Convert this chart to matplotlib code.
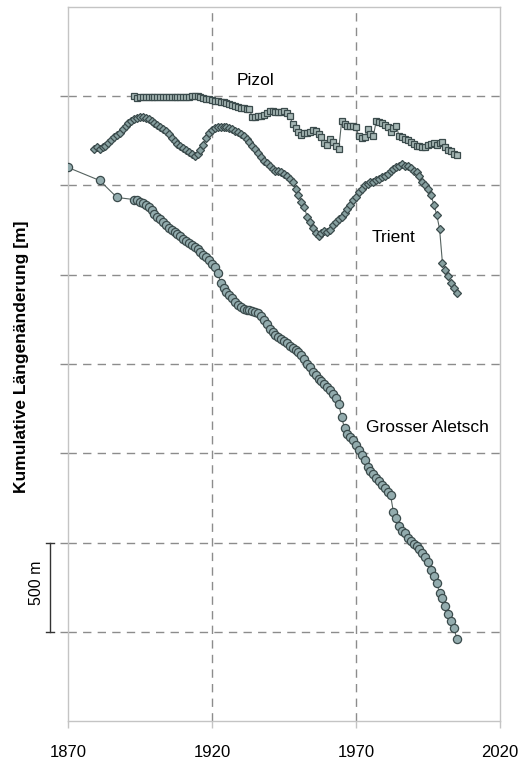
import matplotlib
matplotlib.use("Agg")
import matplotlib.pyplot as plt

plt.rcParams['font.family'] = ['Liberation Sans', 'DejaVu Sans']

# Pizol: annual cumulative length change [m], 1893-2005
pizol_years = list(range(1893, 2006))
pizol_m = [0, -11] + [-6] * 18 + [
    0, 0, 0, -6, -11, -17, -17, -22, -28, -28,              # 1913-1922
    -34, -34, -39, -45, -51, -56, -62, -67, -67, -73,       # 1923-1932
    -73, -118, -118, -112, -112, -107, -96, -84, -84, -90,  # 1933-1942
    -90, -90, -84, -96, -112, -157, -180, -202, -219, -208,  # 1943-1952
    -208, -202, -191, -197, -213, -230, -264, -275, -242, -258,  # 1953-1962
    -281, -298, -140, -157, -169, -169, -169, -174, -225, -236,  # 1963-1972
    -230, -185, -213, -225, -140, -146, -152, -163, -174, -202,  # 1973-1982
    -180, -169, -225, -230, -242, -247, -258, -270, -281, -281,  # 1983-1992
    -287, -287, -275, -270, -264, -275, -264, -258, -287, -303,  # 1993-2002
    -309, -326, -331,                                        # 2003-2005
]

# Trient: annual cumulative length change [m], 1879-2005
trient_years = list(range(1879, 2006))
trient_m = [
    -298, -287, -298, -287, -281, -264, -247, -230, -219, -208,  # 1879-1888
    -185, -169, -152, -140, -129, -124, -118, -118, -124, -129,  # 1889-1898
    -140, -152, -163, -174, -185, -197, -213, -236, -253, -270,  # 1899-1908
    -281, -292, -303, -315, -326, -337, -326, -303, -275, -236,  # 1909-1918
    -208, -191, -180, -174, -174, -174, -174, -180, -185, -197,  # 1919-1928
    -202, -213, -225, -242, -258, -281, -298, -320, -343, -360,  # 1929-1938
    -376, -393, -410, -416, -421, -427, -438, -449, -466, -483,  # 1939-1948
    -517, -551, -590, -618, -674, -702, -736, -764, -781, -764,  # 1949-1958
    -753, -758, -747, -719, -702, -685, -674, -652, -629, -607,  # 1959-1968
    -584, -562, -539, -517, -500, -489, -483, -478, -472, -461,  # 1969-1978
    -455, -444, -433, -421, -410, -399, -388, -382, -388, -393,  # 1979-1988
    -404, -416, -427, -449, -478, -500, -517, -551, -607, -663,  # 1989-1998
    -742, -933, -972, -1006, -1045, -1073, -1101,               # 1999-2005
]

# Grosser Aletsch: sparse early surveys, then annual from 1893
aletsch_years = [1870, 1881, 1887] + list(range(1893, 2006))
aletsch_m = [
    -399, -472, -567,
    -579, -584, -590, -596, -607, -618, -635,                      # 1893-1899
    -657, -674, -685, -702, -719, -736, -747, -758, -770, -781,    # 1900-1909
    -798, -809, -820, -831, -843, -854, -871, -888, -899, -916,    # 1910-1919
    -938, -955, -989, -1045, -1073, -1096, -1112, -1129, -1152, -1169,  # 1920-1929
    -1180, -1191, -1197, -1197, -1202, -1208, -1213, -1230, -1253, -1275,  # 1930-1939
    -1303, -1320, -1337, -1348, -1360, -1371, -1382, -1399, -1410, -1421,  # 1940-1949
    -1433, -1449, -1472, -1500, -1517, -1545, -1562, -1584, -1596, -1612,  # 1950-1959
    -1629, -1646, -1669, -1691, -1725, -1798, -1860, -1893, -1910, -1927,  # 1960-1969
    -1955, -1983, -2011, -2039, -2079, -2101, -2118, -2140, -2157, -2180,  # 1970-1979
    -2197, -2219, -2236, -2331, -2360, -2405, -2433, -2449, -2472, -2489,  # 1980-1989
    -2506, -2517, -2534, -2556, -2579, -2607, -2652, -2685, -2725, -2781,  # 1990-1999
    -2809, -2854, -2899, -2938, -2978, -3039,                              # 2000-2005
]

x_ticks = [1870, 1920, 1970, 2020]
y_grid = [-3000, -2500, -2000, -1500, -1000, -500, 0]

line_col = '#55625f'
edge_col = '#3b4b4c'
frame_col = '#c4c4c4'
grid_col = '#8c8c8c'

fig = plt.figure(figsize=(5.22, 7.6), dpi=100)
ax = fig.add_axes([0.1303, 0.0513, 0.8276, 0.9395])

ax.plot(pizol_years, pizol_m, color=line_col, lw=0.8, marker='s', ms=4.6,
        mfc='#a6b7b5', mec=edge_col, mew=0.9, zorder=3)
ax.plot(trient_years, trient_m, color=line_col, lw=0.8, marker='D', ms=4.3,
        mfc='#87a0a0', mec=edge_col, mew=0.9, zorder=3)
ax.plot(aletsch_years, aletsch_m, color=line_col, lw=0.8, marker='o', ms=5.9,
        mfc='#93acae', mec=edge_col, mew=0.9, zorder=3)

ax.set_xlim(1870, 2020)
ax.set_ylim(-3500, 500)
ax.set_xticks(x_ticks)
ax.set_yticks(y_grid)
ax.set_yticklabels([])
ax.tick_params(axis='x', length=5, width=1, color=frame_col, pad=12, labelsize=12)
ax.tick_params(axis='y', length=6, width=1, color=grid_col)

ax.grid(axis='y', color=grid_col, ls=(0, (6, 4.5)), lw=1.0)
for yr in x_ticks[1:-1]:
    ax.axvline(yr, color=grid_col, ls=(0, (6, 4.5)), lw=1.0, zorder=1)
ax.set_axisbelow(True)
for sp in ax.spines.values():
    sp.set_color(frame_col)
    sp.set_linewidth(1.0)

ax.text(1935, 90, 'Pizol', fontsize=12.5, ha='center', va='center')
ax.text(1983, -792, 'Trient', fontsize=12.5, ha='center', va='center')
ax.text(1973.5, -1854, 'Grosser Aletsch', fontsize=12.5, ha='left', va='center')

# 500 m scale bar left of the axis
tr = ax.get_yaxis_transform()
ax.plot([-0.041, -0.041], [-2500, -3000], color='#333333', lw=1.0,
        transform=tr, clip_on=False)
for yv in (-2500, -3000):
    ax.plot([-0.050, -0.032], [yv, yv], color='#333333', lw=1.0,
            transform=tr, clip_on=False)
ax.text(-0.074, -2725, '500 m', rotation=90, fontsize=11.5, ha='center',
        va='center', transform=tr, clip_on=False)

fig.text(22 / 522, 1 - 357 / 760, 'Kumulative Längenänderung [m]', rotation=90,
         fontsize=12.5, fontweight='bold', ha='center', va='center')

fig.savefig('out.png', dpi=100)
